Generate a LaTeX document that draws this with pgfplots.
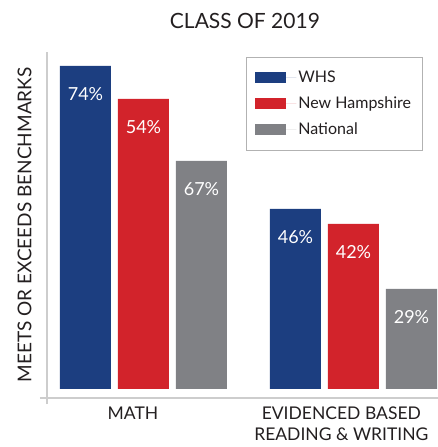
\documentclass[border=0pt]{standalone}
\usepackage{pgfplots}
\pgfplotsset{compat=1.18}
\usepackage{pgfplotstable}
\usepackage{fontspec}
\setmainfont{Lato}

\definecolor{whs}{RGB}{28,62,128}
\definecolor{nh}{RGB}{210,35,43}
\definecolor{nat}{RGB}{128,129,133}
\definecolor{rule}{RGB}{205,205,205}
\definecolor{ink}{RGB}{35,31,32}

% h = bar height as drawn, pct = printed value
\pgfplotstableread{
x h pct
0 323 74
1 180 46
}\whs
\pgfplotstableread{
x h pct
0 290 54
1 165 42
}\nh
\pgfplotstableread{
x h pct
0 228 67
1 100 29
}\nat

\begin{document}
\begin{tikzpicture}
\begin{axis}[
  at={(47pt,49pt)}, anchor=south west,
  x=210pt, y=1pt,
  xmin=-0.4595, xmax=1.402, ymin=-9, ymax=337,
  ybar=7pt, bar width=51pt,
  axis line style={draw=none},
  ytick=\empty,
  xtick={-0.05,0.942},
  xticklabels={MATH,EVIDENCED BASED\\READING \& WRITING},
  xticklabel style={align=center, text=ink, yshift=-5pt,
    font=\fontsize{17.5}{21}\selectfont},
  major tick length=0pt,
  clip=false,
  /pgf/number format/assume math mode=true,
  point meta=explicit,
  nodes near coords={\pgfmathprintnumber{\pgfplotspointmeta}\%},
  every node near coord/.append style={anchor=north, yshift=-21pt,
    inner sep=0pt, text=white, font=\fontsize{18}{20}\selectfont},
  legend style={at={(axis cs:0.488,332)}, anchor=north west,
    draw=black!30, line width=0.8pt, text=ink,
    font=\fontsize{16}{19}\selectfont, row sep=8.5pt,
    inner xsep=9pt, inner ysep=12pt},
  legend cell align=left,
  legend image code/.code={\fill[#1,draw=none] (0pt,-5.5pt) rectangle (31pt,5.5pt);
    \path (0pt,0pt) -- (41pt,0pt);},
]
\addplot[fill=whs, draw=none] table[x=x, y=h, meta=pct] {\whs};
\addplot[fill=nh, draw=none] table[x=x, y=h, meta=pct] {\nh};
\addplot[fill=nat, draw=none] table[x=x, y=h, meta=pct] {\nat};
\legend{WHS,New Hampshire,National}

\draw[rule, line width=1.6pt] (axis cs:-0.4595,-15) -- (axis cs:-0.4595,337);
\draw[rule, line width=1.6pt] (axis cs:-0.4929,-9) -- (axis cs:1.45,-9);
\node[text=ink, font=\fontsize{21}{25}\selectfont] at (axis cs:0.483,368) {CLASS OF 2019};
\node[rotate=90, text=ink, font=\fontsize{19}{23}\selectfont] at (axis cs:-0.5667,164) {MEETS OR EXCEEDS BENCHMARKS};
\end{axis}
\pgfresetboundingbox
\useasboundingbox (0pt,0pt) rectangle (438pt,447pt);
\end{tikzpicture}
\end{document}
